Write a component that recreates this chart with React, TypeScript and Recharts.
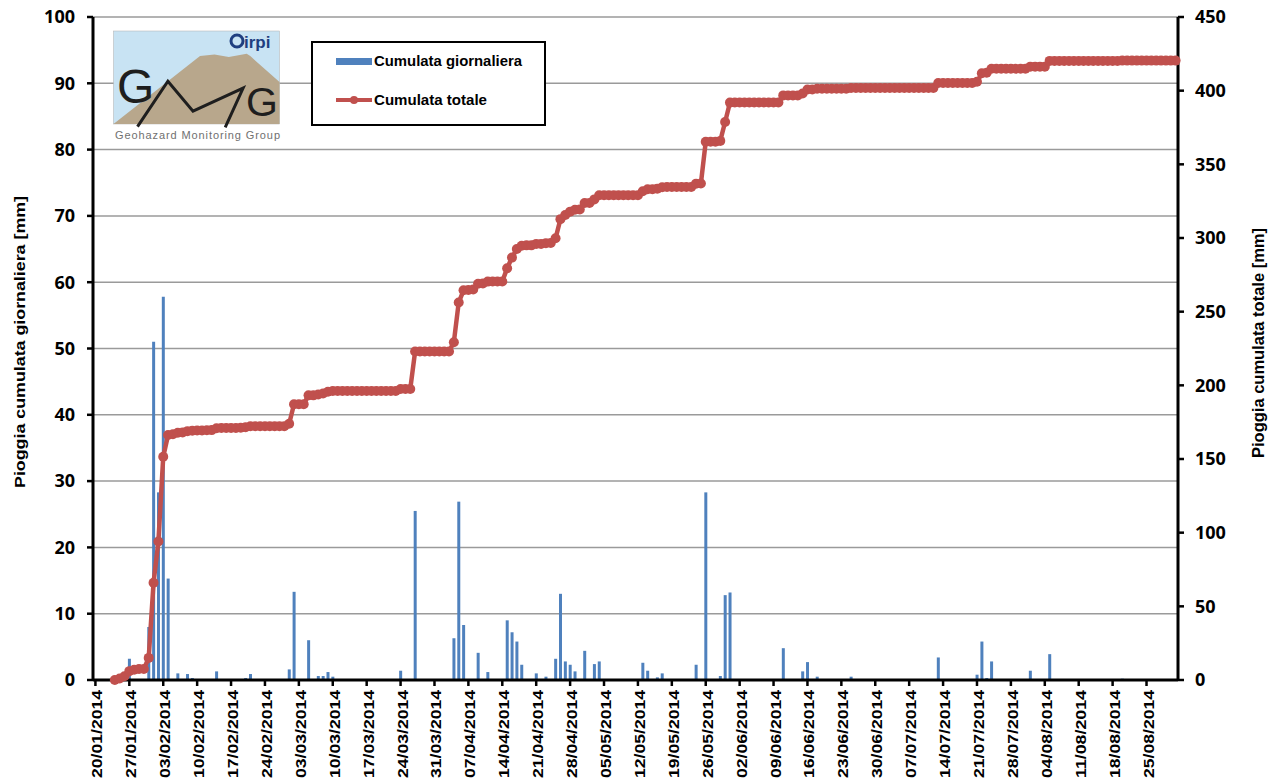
import React from 'react';
import { ComposedChart, Bar, Line, XAxis, YAxis, CartesianGrid, Legend } from 'recharts';

// one category per day, 20/01/2014 (index 0) .. 31/08/2014 (index 223)
const TICK_LABELS = [
  '20/01/2014', '27/01/2014', '03/02/2014', '10/02/2014', '17/02/2014', '24/02/2014',
  '03/03/2014', '10/03/2014', '17/03/2014', '24/03/2014', '31/03/2014', '07/04/2014',
  '14/04/2014', '21/04/2014', '28/04/2014', '05/05/2014', '12/05/2014', '19/05/2014',
  '26/05/2014', '02/06/2014', '09/06/2014', '16/06/2014', '23/06/2014', '30/06/2014',
  '07/07/2014', '14/07/2014', '21/07/2014', '28/07/2014', '04/08/2014', '11/08/2014',
  '18/08/2014', '25/08/2014',
];

// daily rainfall: [day index, mm] (left axis)
const DAILY_RAIN: [number, number][] = [
  [7, 3.2], [11, 8.0], [12, 51.0], [13, 28.3], [14, 57.8], [15, 15.3], [17, 1.0], [19, 0.9],
  [20, 0.3], [25, 1.3], [31, 0.3], [32, 0.9], [40, 1.6], [41, 13.3], [44, 6.0], [46, 0.6],
  [47, 0.6], [48, 1.2], [49, 0.5], [63, 1.4], [66, 25.5], [74, 6.3], [75, 26.9], [76, 8.3],
  [79, 4.1], [81, 1.2], [85, 9.0], [86, 7.2], [87, 5.8], [88, 2.3], [91, 1.0], [93, 0.5],
  [95, 3.2], [96, 13.0], [97, 2.8], [98, 2.3], [99, 1.3], [101, 4.4], [103, 2.4], [104, 2.8],
  [113, 2.6], [114, 1.4], [116, 0.4], [117, 1.0], [124, 2.3], [126, 28.3], [129, 0.6],
  [130, 12.8], [131, 13.2], [142, 4.8], [146, 1.3], [147, 2.7], [149, 0.5], [156, 0.5],
  [174, 3.4], [182, 0.8], [183, 5.8], [184, 0.3], [185, 2.8], [193, 1.4], [197, 3.9], [212, 0.2],
];

// cumulative total per day, mm (right axis), one row per week
const CUMULATIVE: (number | null)[] = [
  null, null, null, null, 0, 1, 2.5,
  6, 7, 7.5, 7.5, 15, 66, 94,
  151.5, 166.3, 166.8, 167.8, 168, 168.9, 169.2,
  169.4, 169.4, 169.5, 169.6, 170.9, 171, 171,
  171, 171, 171.2, 171.5, 172.2, 172.2, 172.2,
  172.3, 172.3, 172.3, 172.3, 172.3, 173.9, 187.2,
  187.2, 187.2, 193.2, 193.2, 193.8, 194.4, 195.6,
  196.1, 196.1, 196.1, 196.1, 196.1, 196.1, 196.1,
  196.1, 196.1, 196.1, 196.1, 196.1, 196.1, 196.1,
  197.5, 197.5, 197.5, 223, 223, 223, 223,
  223, 223, 223, 223, 229.3, 256.2, 264.5,
  264.7, 265, 269, 269.2, 270.4, 270.5, 270.5,
  270.5, 279.5, 286.7, 292.5, 294.8, 295, 295,
  296, 296, 296.5, 296.6, 299.8, 312.8, 315.6,
  317.9, 319.2, 319.3, 323.7, 323.8, 326.2, 329,
  329.1, 329.1, 329.1, 329.1, 329.1, 329.1, 329.1,
  329.1, 331.7, 333.1, 333.1, 333.5, 334.5, 334.6,
  334.6, 334.6, 334.6, 334.6, 334.6, 336.9, 337,
  365.3, 365.3, 365.3, 365.9, 378.7, 391.9, 392,
  392, 392, 392, 392, 392, 392, 392,
  392, 392, 396.8, 396.8, 396.8, 396.8, 398.1,
  400.8, 400.8, 401.3, 401.3, 401.3, 401.3, 401.3,
  401.3, 401.3, 401.8, 401.8, 401.8, 401.8, 401.8,
  401.8, 401.8, 401.8, 401.8, 401.8, 401.8, 401.8,
  401.8, 401.8, 401.8, 401.8, 401.8, 401.8, 405.2,
  405.2, 405.2, 405.2, 405.2, 405.2, 405.2, 405.2,
  406, 411.8, 412.1, 414.9, 414.9, 414.9, 414.9,
  414.9, 414.9, 414.9, 414.9, 416.3, 416.3, 416.3,
  416.3, 420.2, 420.2, 420.2, 420.2, 420.2, 420.2,
  420.2, 420.2, 420.2, 420.2, 420.2, 420.2, 420.2,
  420.2, 420.2, 420.4, 420.4, 420.4, 420.4, 420.4,
  420.4, 420.4, 420.4, 420.4, 420.4, 420.4, 420.4,
];

const LEFT_TICKS = [0, 10, 20, 30, 40, 50, 60, 70, 80, 90, 100];
const RIGHT_TICKS = [0, 50, 100, 150, 200, 250, 300, 350, 400, 450];

const BAR_NAME = 'Cumulata giornaliera';
const LINE_NAME = 'Cumulata totale';
const BAR_COLOR = '#4F81BD';
const LINE_COLOR = '#C0504D';
const ARIAL = '"Liberation Sans", Arial, sans-serif';
const NUM_FONT = '"Open Sans", "Liberation Sans", sans-serif';

const rainByDay = new Map(DAILY_RAIN);
const chartData = CUMULATIVE.map((total, day) => ({
  day,
  rain: rainByDay.get(day) ?? null,
  total,
}));

const DateTick = ({ x, y, payload }: any) => {
  const label = TICK_LABELS[payload.value / 7];
  if (!label) return null;
  return (
    <text
      transform={`translate(${x + 7},${y + 90}) rotate(-90)`}
      fontFamily={ARIAL}
      fontWeight="bold"
      fontSize={14}
      fill="#000"
      textLength={88}
      lengthAdjust="spacingAndGlyphs"
    >
      {label}
    </text>
  );
};

const LegendBox = () => (
  <svg width={235} height={85} style={{ display: 'block' }}>
    <rect x={1} y={1} width={233} height={83} fill="#fff" stroke="#000" strokeWidth={2} />
    <rect x={25} y={17} width={36} height={7} fill={BAR_COLOR} />
    <text x={63} y={25} fontFamily={ARIAL} fontWeight="bold" fontSize={14} textLength={148} lengthAdjust="spacingAndGlyphs">
      {BAR_NAME}
    </text>
    <line x1={25} x2={61} y1={59} y2={59} stroke={LINE_COLOR} strokeWidth={4} />
    <circle cx={43} cy={59} r={4} fill={LINE_COLOR} />
    <text x={63} y={64} fontFamily={ARIAL} fontWeight="bold" fontSize={14} textLength={113} lengthAdjust="spacingAndGlyphs">
      {LINE_NAME}
    </text>
  </svg>
);

// GMG / irpi logo in the top-left corner of the plot
const Logo = () => (
  <svg width={180} height={120} style={{ position: 'absolute', left: 110, top: 28, pointerEvents: 'none' }}>
    <rect x={3.5} y={3} width={166} height={93} fill="#c8e3f3" stroke="#b0b0b0" strokeWidth={0.5} />
    <polygon
      points="3.5,96 90,28 104.5,26.4 118.8,29.1 136.7,25.7 140.3,28.1 169.5,54 169.5,96"
      fill="#b8a78c"
    />
    <text x={7} y={75} fontFamily={ARIAL} fontSize={48} fill="#1e1e1e">G</text>
    <text x={136} y={88} fontFamily={ARIAL} fontSize={41} fill="#1e1e1e">G</text>
    <polyline
      points="27.5,98.6 57.9,53.2 83,83.2 133.1,60.1 115.2,99.3"
      fill="none"
      stroke="#1e1e1e"
      strokeWidth={3}
    />
    <circle cx={127} cy={13} r={6} fill="none" stroke="#1f3f80" strokeWidth={3} />
    <text x={134} y={19.5} fontFamily={ARIAL} fontWeight="bold" fontSize={17} fill="#1f3f80">irpi</text>
    <text x={5} y={111} fontFamily={ARIAL} fontSize={11} fill="#707070" textLength={165} lengthAdjust="spacing">
      Geohazard Monitoring Group
    </text>
  </svg>
);

const LeftTitle = () => (
  <text
    transform="translate(24.5,488) rotate(-90)"
    fontFamily={ARIAL}
    fontWeight="bold"
    fontSize={14.5}
    fill="#000"
    textLength={292}
    lengthAdjust="spacingAndGlyphs"
  >
    Pioggia cumulata giornaliera  [mm]
  </text>
);

const RightTitle = () => (
  <text
    transform="translate(1264,458) rotate(-90)"
    fontFamily={ARIAL}
    fontWeight="bold"
    fontSize={16}
    fill="#000"
    textLength={230}
    lengthAdjust="spacingAndGlyphs"
  >
    Pioggia cumulata totale [mm]
  </text>
);

const App: React.FC = () => {
  return (
    <div style={{ position: 'absolute', left: 0, top: 0, width: 1278, height: 783, background: '#fff' }}>
      <ComposedChart
        width={1278}
        height={783}
        data={chartData}
        margin={{ top: 17, right: 0, bottom: 0, left: 0 }}
      >
        <CartesianGrid yAxisId="left" vertical={false} stroke="#9a9a9a" strokeWidth={1.5} />
        <XAxis
          dataKey="day"
          type="category"
          interval={6}
          height={103}
          tick={<DateTick />}
          tickSize={6}
          axisLine={{ stroke: '#000', strokeWidth: 3 }}
          tickLine={{ stroke: '#000', strokeWidth: 2.5 }}
        />
        <YAxis
          yAxisId="left"
          orientation="left"
          width={93}
          domain={[0, 100]}
          ticks={LEFT_TICKS}
          tickSize={6}
          tickMargin={12}
          axisLine={{ stroke: '#000', strokeWidth: 3 }}
          tickLine={{ stroke: '#000', strokeWidth: 2.5 }}
          tick={{ fontFamily: NUM_FONT, fontWeight: 700, fontSize: 18, fill: '#000' }}
          label={{ content: () => <LeftTitle /> }}
        />
        <YAxis
          yAxisId="right"
          orientation="right"
          width={100}
          domain={[0, 450]}
          ticks={RIGHT_TICKS}
          tickSize={6}
          tickMargin={11}
          axisLine={{ stroke: '#000', strokeWidth: 3 }}
          tickLine={{ stroke: '#000', strokeWidth: 2.5 }}
          tick={{ fontFamily: NUM_FONT, fontWeight: 700, fontSize: 18, fill: '#000' }}
          label={{ content: () => <RightTitle /> }}
        />
        <Legend
          layout="horizontal"
          verticalAlign="middle"
          align="center"
          content={<LegendBox />}
          wrapperStyle={{ left: 311, top: 41, width: 235, height: 85 }}
        />
        <Bar
          yAxisId="left"
          dataKey="rain"
          name={BAR_NAME}
          fill={BAR_COLOR}
          barSize={3}
          isAnimationActive={false}
        />
        <Line
          yAxisId="right"
          dataKey="total"
          name={LINE_NAME}
          type="linear"
          stroke={LINE_COLOR}
          strokeWidth={4.5}
          dot={{ r: 5, fill: LINE_COLOR, stroke: LINE_COLOR, strokeWidth: 0 }}
          activeDot={false}
          isAnimationActive={false}
        />
      </ComposedChart>
      <Logo />
    </div>
  );
};

export default App;
